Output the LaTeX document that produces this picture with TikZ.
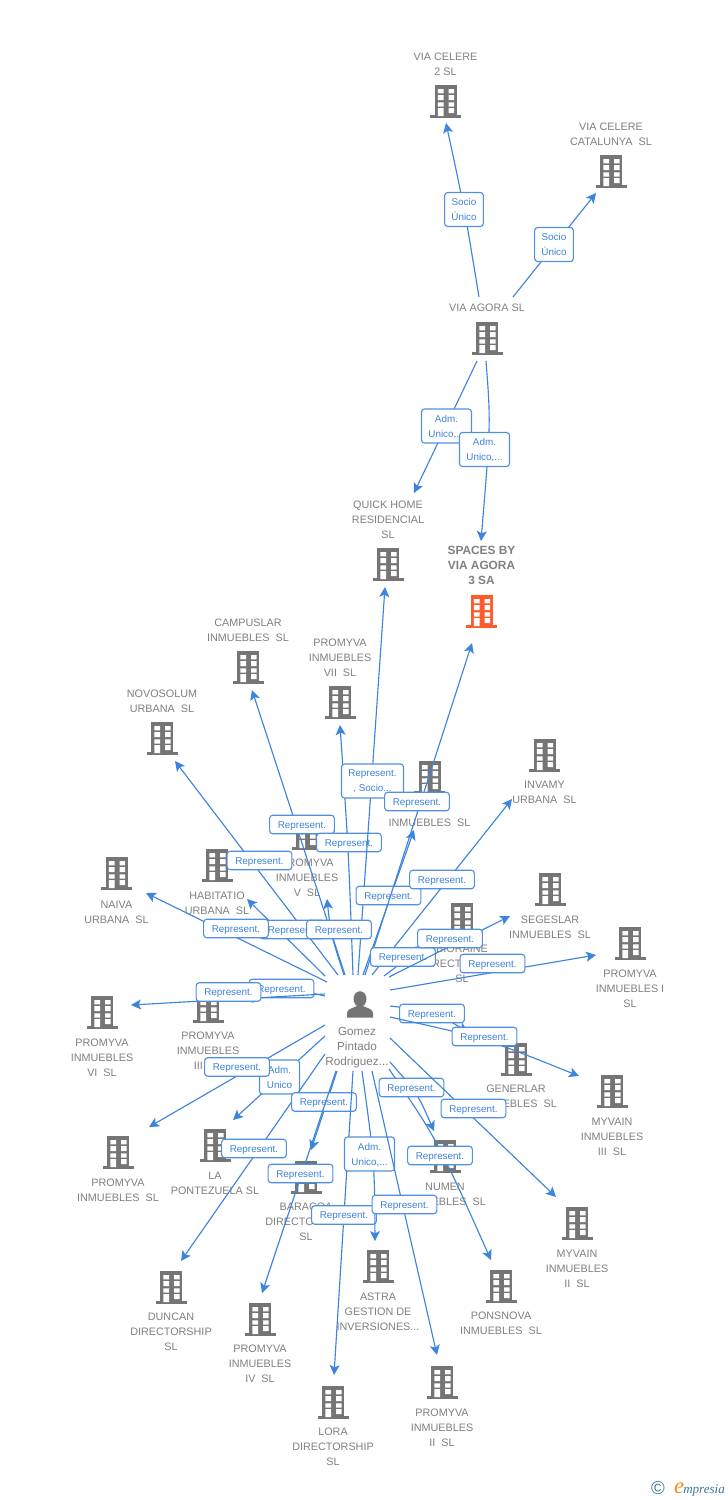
\documentclass[tikz,border=0pt]{standalone}
\usepackage{fontspec}
\setmainfont{Liberation Sans}
\newfontfamily\logoserif{Liberation Serif}
\usetikzlibrary{arrows.meta,calc}
\definecolor{bldg}{HTML}{757575}
\definecolor{lbl}{HTML}{808080}
\definecolor{edgeblue}{HTML}{3D84DE}
\definecolor{boxtext}{HTML}{3F82D8}
\definecolor{hot}{HTML}{FF5A2B}
\definecolor{logoteal}{HTML}{3A7C9C}
\definecolor{logoorange}{HTML}{F08A24}
\tikzset{
  lbltext/.style={font=\fontsize{8.1pt}{11.25pt}\selectfont, text=lbl, align=center, anchor=north, inner sep=0pt},
  lblhot/.style={font=\fontsize{8.9pt}{11.25pt}\selectfont\bfseries, text=lbl, align=center, anchor=north, inner sep=0pt},
  lblperson/.style={font=\fontsize{8.8pt}{11.25pt}\selectfont, text=lbl, align=center, anchor=north, inner sep=0pt},
  link/.style={draw=edgeblue, line width=0.85pt, -{Stealth[length=7.5pt,width=7.5pt,inset=1.8pt]}},
  basebox/.style={draw=edgeblue!90!white, line width=0.85pt, fill=white, rounded corners=2.2pt, inner sep=0pt, text=boxtext, align=center, font=\fontsize{7.4pt}{11.25pt}\selectfont},
  repbox/.style={basebox, minimum width=48.5pt, minimum height=13.8pt, text height=5.3pt, text depth=0pt},
  socbox/.style={basebox, minimum width=29pt, minimum height=25.5pt, text depth=-1.5pt},
  admbox/.style={basebox, minimum width=37.5pt, minimum height=25.5pt, text depth=-1.5pt},
  adnbox/.style={basebox, minimum width=30pt, minimum height=25.5pt, text depth=-1.5pt},
  rsbox/.style={basebox, minimum width=46.5pt, minimum height=25.5pt, text depth=-1.5pt},
}
% [colour]{name}{cx}{top}{first line centre y}{label style}{text}
\newcommand{\company}[7][bldg]{%
  \begin{scope}[shift={(#3,#4)}]
    \fill[#1] (-11,0) rectangle (11,32);
    \fill[#1] (-15.5,30) rectangle (15.5,33);
    \fill[white] (-7.7,4) rectangle (-2,8.3) (3,4) rectangle (8.5,8.3)
      (-7.7,10) rectangle (-2,15) (3,10) rectangle (8.5,15)
      (-7.7,17.3) rectangle (-2,21.7) (3,17.3) rectangle (8.5,21.7)
      (-7.7,23) rectangle (-2,31) (3,23) rectangle (8.5,28);
  \end{scope}
  \node[#6] (#2) at (#3,#5-3) {#7};%
}
% straight: [box style]{name}{start}{end}{box}{text}
\newcommand{\lnk}[6][repbox]{%
  \coordinate (s#2) at (#3);
  \coordinate (e#2) at (#4);
  \draw[link] (s#2) -- (e#2);
  \node[#1] (b#2) at (#5) {#6};%
}
% curved: [box style]{name}{start}{via}{end}{box}{text}
\newcommand{\clnk}[7][repbox]{%
  \coordinate (s#2) at (#3);
  \coordinate (m#2) at (#4);
  \coordinate (e#2) at (#5);
  \coordinate (c#2) at ($1.3333*(m#2)-0.16667*(s#2)-0.16667*(e#2)$);
  \draw[link] (s#2) .. controls (c#2) .. (e#2);
  \node[#1] (b#2) at (#6) {#7};%
}
\begin{document}
\begin{tikzpicture}[x=0.75pt,y=-0.75pt]
\useasboundingbox (0,0) rectangle (728,1500);
\fill[white] (0,0) rectangle (728,1500);

\company{celere}{445.5}{85}{56}{lbltext}{VIA CELERE\\2 SL}
\company{catalunya}{611}{155}{126}{lbltext}{VIA CELERE\\CATALUNYA\ \ SL}
\company{agora}{487}{322}{307}{lbltext}{VIA AGORA SL}
\company{quick}{388}{548}{504}{lbltext}{QUICK HOME\\RESIDENCIAL\\SL}
\company[hot]{spaces}{481.5}{595}{549}{lblhot}{SPACES BY\\VIA AGORA\\3 SA}
\company{campuslar}{248}{651}{622}{lbltext}{CAMPUSLAR\\INMUEBLES\ \ SL}
\company{pvii}{340}{686}{642}{lbltext}{PROMYVA\\INMUEBLES\\VII\ \ SL}
\company{novosolum}{162}{722}{693}{lbltext}{NOVOSOLUM\\URBANA\ \ SL}
\company{inm}{429.5}{761}{822}{lbltext}{INMUEBLES\ \ SL}
\company{invamy}{544.5}{739}{784}{lbltext}{INVAMY\\URBANA\ \ SL}
\company{pv}{307}{817}{862}{lbltext}{PROMYVA\\INMUEBLES\\V\ \ SL}
\company{habitatio}{217}{849}{895}{lbltext}{HABITATIO\\URBANA\ \ SL}
\company{naiva}{116.5}{857}{904}{lbltext}{NAIVA\\URBANA\ \ SL}
\company{segeslar}{550}{873}{919}{lbltext}{SEGESLAR\\INMUEBLES\ \ SL}
\company{bioraine}{462}{903}{948}{lbltext}{BIORAINE\\DIRECTORSHIP\\SL}
\company{pi}{630}{927}{973}{lbltext}{PROMYVA\\INMUEBLES I\\SL}
\company{piii}{208}{990}{1035}{lbltext}{PROMYVA\\INMUEBLES\\III\ \ SL}
\company{pvi}{102}{996}{1042}{lbltext}{PROMYVA\\INMUEBLES\\VI\ \ SL}
\company{generlar}{516}{1043}{1088}{lbltext}{GENERLAR\\INMUEBLES\ \ SL}
\company{myiii}{612}{1075}{1121}{lbltext}{MYVAIN\\INMUEBLES\\III\ \ SL}
\company{psl}{118}{1136}{1182}{lbltext}{PROMYVA\\INMUEBLES\ \ SL}
\company{ponte}{215}{1129}{1175}{lbltext}{LA\\PONTEZUELA SL}
\company{numen}{445}{1140}{1186}{lbltext}{NUMEN\\INMUEBLES\ \ SL}
\company{baracoa}{306}{1161}{1206}{lbltext}{BARACOA\\DIRECTORSHIP\\SL}
\company{myii}{577}{1207}{1253}{lbltext}{MYVAIN\\INMUEBLES\\II\ \ SL}
\company{astra}{378}{1250}{1296}{lbltext}{ASTRA\\GESTION DE\\INVERSIONES...}
\company{ponsnova}{501}{1270}{1315}{lbltext}{PONSNOVA\\INMUEBLES\ \ SL}
\company{duncan}{171}{1271}{1316}{lbltext}{DUNCAN\\DIRECTORSHIP\\SL}
\company{piv}{260}{1303}{1348}{lbltext}{PROMYVA\\INMUEBLES\\IV\ \ SL}
\company{lora}{333}{1386}{1431}{lbltext}{LORA\\DIRECTORSHIP\\SL}
\company{pii}{442}{1366}{1412}{lbltext}{PROMYVA\\INMUEBLES\\II\ \ SL}

% person
\fill[bldg] (360,999) ellipse [x radius=6.5, y radius=7.8];
\fill[bldg] (357,1004) rectangle (363,1010);
\fill[bldg] (347,1017.5) -- (347,1013) .. controls (347,1009) and (353,1008) .. (357,1006)
  -- (363,1006) .. controls (367,1008) and (373,1009) .. (373,1013) -- (373,1017.5) -- cycle;
\node[lblperson] (gomez) at (357,1027.5) {Gomez\\Pintado\\Rodriguez...};

% upper group
\clnk[socbox]{a1}{479,297}{464,209}{446,123}{464,209.5}{Socio\\Único}
\lnk[socbox]{a2}{513,297}{596,193}{554,244.5}{Socio\\Único}
\lnk[admbox]{a3}{477,361}{414,493}{446.5,426}{Adm.\\Unico,...}
\clnk[admbox]{a4}{486,361}{489,430}{481,541}{484.5,449.5}{Adm.\\Unico,...}

% from the person, upwards
\lnk{e1}{338,975}{175,761}{259.5,860.5}{Represent.}
\lnk{e2}{345,975}{252,690}{302,824.5}{Represent.}
\clnk{e3}{353,975}{348,850}{340,725}{349,842.5}{Represent.}
\clnk[rsbox]{e4}{358,975}{371,790}{385,587}{372.5,781}{Represent.\\, Socio...}
\lnk{e5}{363,975}{414,830}{388.5,895.5}{Represent.}
\lnk{e6}{365,975}{472,643}{417,801.5}{Represent.}
\lnk{e7}{372,975}{512,799}{442,879.5}{Represent.}
\lnk{e8}{384,976}{425,945}{403,957}{Represent.}
\lnk{e9}{389,977}{510,916}{450,938.5}{Represent.}
\lnk{e10}{390,990}{596,955}{492.5,963.5}{Represent.}
% left side
\lnk{e11}{325,976}{247,899}{292,929.5}{Represent.}
\clnk{e12}{344,975}{332,935}{327,899}{339,929.5}{Represent.}
\lnk{e13}{327,982}{146,893}{236,928.5}{Represent.}
\clnk{e14}{325,996}{285,990}{243,1001}{281.5,988.5}{Represent.}
\lnk{e15}{325,994}{131,1005}{228.5,992}{Represent.}
% lower left
\lnk[adnbox]{e16}{325,1036}{233,1120}{279.5,1077}{Adm.\\Unico}
\lnk{e17}{325,1025}{149,1127}{237,1067}{Represent.}
\lnk{e18}{325,1054}{181,1261}{254,1148.5}{Represent.}
\lnk{e19}{337,1071}{311,1150}{324,1102}{Represent.}
\lnk{e20}{336,1071}{262,1293}{300.5,1173.5}{Represent.}
% lower right
\lnk{e21}{353,1071}{334,1375}{344,1215}{Represent.}
\clnk[admbox]{e22}{362,1071}{373,1160}{375,1241}{369.5,1154}{Adm.\\Unico,...}
\lnk{e23}{372,1071}{437,1355}{404.5,1204.5}{Represent.}
\clnk{e24}{389,1069}{438,1146}{491,1260}{440,1155.5}{Represent.}
\clnk{e25}{390,1062}{416,1094}{434,1131}{411.5,1087.5}{Represent.}
\lnk{e26}{390,1038}{556,1197}{473.5,1108.5}{Represent.}
\clnk{e27}{390,1006}{432,1013}{468,1032}{432,1013.5}{Represent.}
\clnk{e28}{390,1017}{484,1040}{579,1076}{484.5,1036.5}{Represent.}

% logo
\node[inner sep=0pt, text=logoteal, font=\fontsize{14pt}{14pt}\selectfont] (logoc) at (658,1488.5) {©};
\node[inner sep=0pt, anchor=base west, text=logoteal, font=\fontsize{9.8pt}{12pt}\logoserif\itshape] (logop) at (683,1493) {mpresia};
\node[inner sep=0pt, anchor=base east, text=logoorange, font=\fontsize{17pt}{17pt}\logoserif\itshape] (logoe) at (684.5,1493) {e};
\end{tikzpicture}
\end{document}
